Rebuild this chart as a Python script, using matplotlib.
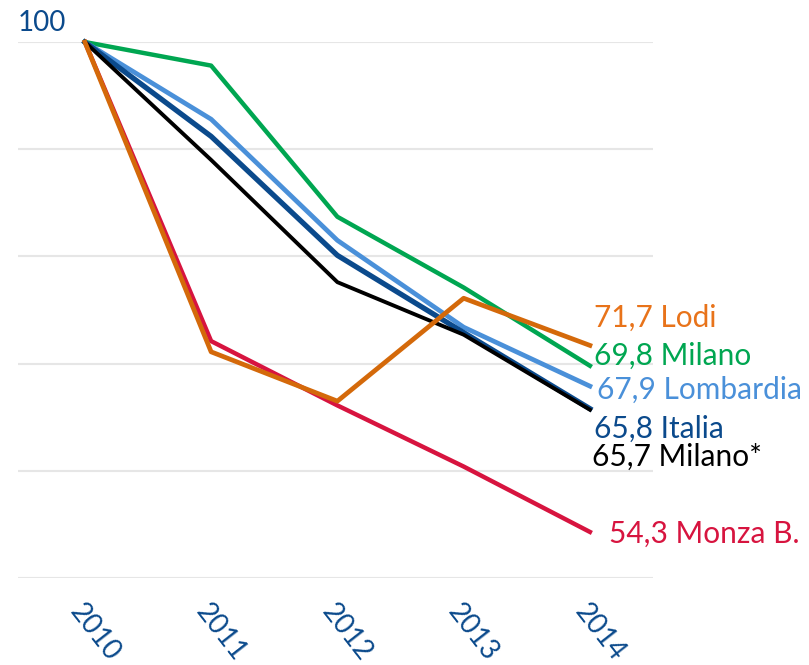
import matplotlib.pyplot as plt
import matplotlib as mpl

mpl.rcParams['font.family'] = ['Lato', 'DejaVu Sans']

# index 2010 = 100
years = [2010, 2011, 2012, 2013, 2014]
milano = [100, 97.8, 83.7, 77.1, 69.8]
lombardia = [100, 92.8, 81.5, 73.4, 67.9]
italia = [100, 91.2, 80.1, 72.9, 65.8]
milano_star = [100, 89.0, 77.6, 72.7, 65.7]
lodi = [100, 71.1, 66.5, 76.1, 71.7]
monza = [100, 72.1, 66.1, 60.4, 54.3]

end_labels = ["71,7 Lodi", "69,8 Milano", "67,9 Lombardia", "65,8 Italia", "65,7 Milano*", "54,3 Monza B."]
label_y = [74.3, 70.7, 67.6, 63.9, 61.3, 54.1]

dark_blue = "#0b4a8c"

fig = plt.figure(figsize=(8.09, 6.65), dpi=100)
ax = fig.add_axes([0.0222, 0.1308, 0.785, 0.806])

ax.plot(years, monza, color="#d7143f", lw=3.2, clip_on=False, zorder=3)
ax.plot(years, lodi, color="#d4690a", lw=3.4, clip_on=False, zorder=4)
ax.plot(years, milano, color="#00a651", lw=3.2, clip_on=False, zorder=3)
ax.plot(years, lombardia, color="#4a90d9", lw=3.4, clip_on=False, zorder=3)
ax.plot(years, italia, color=dark_blue, lw=3.8, clip_on=False, zorder=3)
ax.plot(years, milano_star, color="black", lw=2.8, clip_on=False, zorder=3)

label_colors = ["#e8731a", "#00a651", "#4a90d9", dark_blue, "black", "#d7143f"]
label_x = [2014.03, 2014.03, 2014.06, 2014.03, 2014.02, 2014.15]
for txt, x, y, c in zip(end_labels, label_x, label_y, label_colors):
    ax.text(x, y, txt, color=c, fontsize=21.5, va="center", ha="left")

ax.text(2009.47, 100.6, "100", color=dark_blue, fontsize=20, va="bottom", ha="left")

ax.set_xlim(2009.47, 2014.5)
ax.set_ylim(50, 100)
ax.set_yticks([50, 60, 70, 80, 90, 100])
ax.yaxis.grid(True, color="#e6e6e6", lw=1.5)
ax.set_axisbelow(True)
ax.tick_params(axis="y", left=False, labelleft=False)
ax.tick_params(axis="x", bottom=False, pad=12, labelcolor=dark_blue)
ax.set_xticks(years)
ax.set_xticklabels([str(y) for y in years], rotation=-52, ha="left",
                   rotation_mode="anchor", fontsize=20)
for s in ax.spines.values():
    s.set_visible(False)

fig.savefig("out.png", dpi=100)
